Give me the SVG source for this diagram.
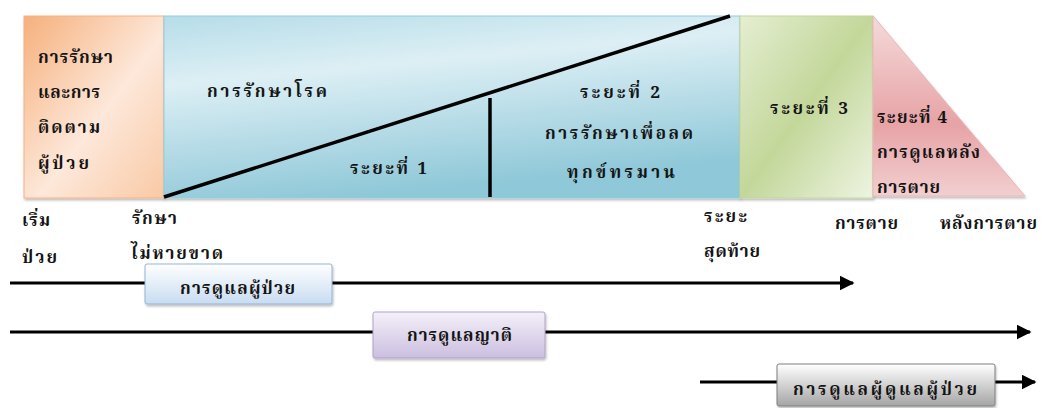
<svg xmlns="http://www.w3.org/2000/svg" width="1042" height="408" viewBox="0 0 1042 408">
<defs>
<linearGradient id="gOrange" x1="0" y1="0" x2="1" y2="1">
<stop offset="0" stop-color="#f6b07c"/><stop offset="0.55" stop-color="#fde8da"/><stop offset="1" stop-color="#f9c9a5"/>
</linearGradient>
<linearGradient id="gBlue" x1="0" y1="0" x2="0.3" y2="1">
<stop offset="0" stop-color="#b6dde8"/><stop offset="0.35" stop-color="#ddeff5"/><stop offset="1" stop-color="#8fc8d8"/>
</linearGradient>
<linearGradient id="gGreen" x1="0" y1="0" x2="1" y2="1">
<stop offset="0" stop-color="#e5eed2"/><stop offset="0.5" stop-color="#c3d79a"/><stop offset="1" stop-color="#eef4e2"/>
</linearGradient>
<linearGradient id="gPink" x1="0" y1="0" x2="0" y2="1">
<stop offset="0" stop-color="#f5dada"/><stop offset="0.6" stop-color="#e7a3a6"/><stop offset="1" stop-color="#f2cfd0"/>
</linearGradient>
<linearGradient id="gB1" x1="0" y1="0" x2="0" y2="1">
<stop offset="0" stop-color="#ffffff"/><stop offset="1" stop-color="#c8dcf1"/>
</linearGradient>
<linearGradient id="gB2" x1="0" y1="0" x2="0" y2="1">
<stop offset="0" stop-color="#f4f0f9"/><stop offset="1" stop-color="#cbbfe0"/>
</linearGradient>
<linearGradient id="gB3" x1="0" y1="0" x2="0" y2="1">
<stop offset="0" stop-color="#ffffff"/><stop offset="1" stop-color="#a5a5a5"/>
</linearGradient>
<marker id="arr" viewBox="0 0 10 10" refX="9" refY="5" markerWidth="5" markerHeight="5" orient="auto" markerUnits="strokeWidth">
<path d="M0,0 L10,5 L0,10 z" fill="#000"/>
</marker>
<filter id="sh" x="-5%" y="-5%" width="110%" height="120%">
<feDropShadow dx="1" dy="2" stdDeviation="1" flood-color="#000" flood-opacity="0.25"/>
</filter>
</defs>
<style>
text{font-family:"Noto Serif Thai","Noto Sans Thai","Noto Sans","DejaVu Sans",sans-serif;font-weight:bold;font-size:17px;fill:#141414}
.line{stroke:#000;stroke-width:3.5;fill:none}
.conn{stroke:#000;stroke-width:3;fill:none}
</style>

<g id="phase-orange">
<rect x="24" y="16" width="140" height="182" fill="url(#gOrange)" stroke="#f4b183" stroke-width="1" filter="url(#sh)"/>
<text x="38" y="63" textLength="75" lengthAdjust="spacing">การรักษา</text>
<text x="38" y="98" textLength="62" lengthAdjust="spacing">และการ</text>
<text x="38" y="133" textLength="62" lengthAdjust="spacing">ติดตาม</text>
<text x="38" y="169" textLength="51" lengthAdjust="spacing">ผู้ป่วย</text>
</g>

<g id="phase-blue">
<rect x="164" y="16" width="576" height="182" fill="url(#gBlue)" stroke="#93cddd" stroke-width="1" filter="url(#sh)"/>
<text x="207" y="97" textLength="120" lengthAdjust="spacing">การรักษาโรค</text>
<text x="350" y="174" textLength="77" lengthAdjust="spacing">ระยะที่ 1</text>
<text x="580" y="98" textLength="80" lengthAdjust="spacing">ระยะที่ 2</text>
<text x="545" y="139" textLength="148" lengthAdjust="spacing">การรักษาเพื่อลด</text>
<text x="567" y="178" textLength="108" lengthAdjust="spacing">ทุกข์ทรมาน</text>
</g>

<g id="phase-green">
<rect x="740" y="16" width="133" height="182" fill="url(#gGreen)" stroke="#c3d69b" stroke-width="1" filter="url(#sh)"/>
<text x="770" y="114" textLength="78" lengthAdjust="spacing">ระยะที่ 3</text>
</g>

<g id="phase-pink">
<path d="M873,16 L1025,196 L873,196 Z" fill="url(#gPink)" stroke="#e6b9b8" stroke-width="1" filter="url(#sh)"/>
<text x="877" y="123" textLength="70" lengthAdjust="spacing">ระยะที่ 4</text>
<text x="877" y="158" textLength="103" lengthAdjust="spacing">การดูแลหลัง</text>
<text x="877" y="193" textLength="63" lengthAdjust="spacing">การตาย</text>
</g>

<g id="dividers">
<line class="line" x1="164" y1="197" x2="730" y2="16"/>
<line class="line" x1="490" y1="98" x2="490" y2="197"/>
</g>

<g id="timeline-labels">
<text x="22" y="226" textLength="28" lengthAdjust="spacing">เริ่ม</text>
<text x="22" y="263" textLength="35" lengthAdjust="spacing">ป่วย</text>
<text x="132" y="224" textLength="45" lengthAdjust="spacing">รักษา</text>
<text x="131" y="259" textLength="92" lengthAdjust="spacing">ไม่หายขาด</text>
<text x="704" y="222" textLength="43" lengthAdjust="spacing">ระยะ</text>
<text x="704" y="257" textLength="56" lengthAdjust="spacing">สุดท้าย</text>
<text x="835" y="229" textLength="63" lengthAdjust="spacing">การตาย</text>
<text x="940" y="229" textLength="97" lengthAdjust="spacing">หลังการตาย</text>
</g>

<g id="connectors">
<line class="conn" x1="10" y1="283" x2="853" y2="283" marker-end="url(#arr)"/>
<line class="conn" x1="10" y1="332" x2="1030" y2="332" marker-end="url(#arr)"/>
<line class="conn" x1="700" y1="382" x2="1035" y2="382" marker-end="url(#arr)"/>
</g>

<g id="care-patient">
<rect x="145" y="264" width="187" height="40" rx="2" fill="url(#gB1)" stroke="#95b3d7" stroke-width="1" filter="url(#sh)"/>
<text x="180" y="294" textLength="115" lengthAdjust="spacing">การดูแลผู้ป่วย</text>
</g>

<g id="care-family">
<rect x="373" y="312" width="172" height="46" rx="2" fill="url(#gB2)" stroke="#b2a1c7" stroke-width="1" filter="url(#sh)"/>
<text x="407" y="341" textLength="105" lengthAdjust="spacing">การดูแลญาติ</text>
</g>

<g id="care-caregiver">
<rect x="777" y="364" width="218" height="42" rx="2" fill="url(#gB3)" stroke="#7f7f7f" stroke-width="1" filter="url(#sh)"/>
<text x="793" y="395" textLength="184" lengthAdjust="spacing">การดูแลผู้ดูแลผู้ป่วย</text>
</g>
</svg>
